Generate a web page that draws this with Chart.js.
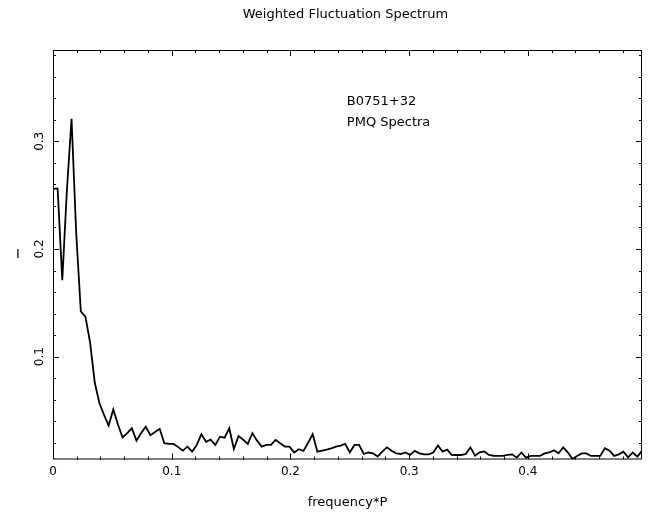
<!DOCTYPE html>
<html>
<head>
<meta charset="utf-8">
<script src="https://cdn.jsdelivr.net/npm/chart.js@4.4.0/dist/chart.umd.min.js"></script>
<style>
html, body { margin: 0; padding: 0; background: #fff; }
canvas { display: block; }
</style>
</head>
<body>
<canvas id="spectrum" width="659" height="515"></canvas>
<script>
// frequency bins are 1/256 wide (in units of 1/P)
var binWidth = 1 / 256;

// weighted fluctuation intensity per bin, starting at bin 0
var intensity = [
  0.256, 0.256, 0.171, 0.255, 0.321, 0.215, 0.142, 0.137, 0.113, 0.076,
  0.057, 0.046, 0.036, 0.051, 0.037, 0.025, 0.029, 0.0335, 0.022, 0.029,
  0.035, 0.027, 0.030, 0.033, 0.0196, 0.019, 0.019, 0.016, 0.0127, 0.0164,
  0.0118, 0.018, 0.028, 0.021, 0.023, 0.018, 0.0257, 0.0248, 0.0335, 0.0143,
  0.0263, 0.023, 0.019, 0.0289, 0.022, 0.0165, 0.018, 0.018, 0.0227, 0.0196,
  0.0165, 0.0165, 0.011, 0.014, 0.0125, 0.020, 0.028, 0.0118, 0.0127, 0.0137,
  0.0149, 0.0165, 0.0174, 0.019, 0.011, 0.018, 0.018, 0.0096, 0.011, 0.0102,
  0.0072, 0.0118, 0.0158, 0.0127, 0.0102, 0.0096, 0.011, 0.0087, 0.0125, 0.0102,
  0.0093, 0.0093, 0.011, 0.0174, 0.0118, 0.0137, 0.0087, 0.0087, 0.0087, 0.0096,
  0.0158, 0.008, 0.0112, 0.012, 0.0087, 0.008, 0.0078, 0.0078, 0.0087, 0.0093,
  0.0062, 0.011, 0.0062, 0.0078, 0.0078, 0.0078, 0.0102, 0.011, 0.013, 0.0102,
  0.0158, 0.0112, 0.005, 0.0078, 0.0102, 0.0102, 0.0078, 0.0078, 0.0078, 0.0149,
  0.0127, 0.0078, 0.0093, 0.0118, 0.0065, 0.011, 0.0072, 0.0125
];

var xTickLabels = ['0', '0.1', '0.2', '0.3', '0.4'];
var yTickLabels = ['0.1', '0.2', '0.3'];
var sourceName = 'B0751+32';
var spectrumKind = 'PMQ Spectra';

var points = intensity.map(function (v, k) { return { x: k * binWidth, y: v }; });
var fontFamily = '"DejaVu Sans", sans-serif';

function majorLabel(list) {
  return function (v) {
    var s = String(+v.toFixed(2));
    return list.indexOf(s) >= 0 ? s : '';
  };
}

// tick every `step` from the first multiple above min to max
function stepTicks(step) {
  return function (s) {
    var t = [];
    for (var i = Math.ceil(s.min / step - 1e-9); i * step <= s.max + 1e-9; i++) {
      t.push({ value: +(i * step).toFixed(4) });
    }
    s.ticks = t;
  };
}

// box, inward ticks on all four sides, text inside the plot
var framePlugin = {
  id: 'frame',
  afterDraw: function (chart) {
    var ctx = chart.ctx, a = chart.chartArea;
    var xs = chart.scales.x, ys = chart.scales.y;
    ctx.save();
    ctx.strokeStyle = '#000';
    ctx.lineWidth = 1;
    ctx.strokeRect(a.left + 0.5, a.top + 0.5, a.right - a.left - 1, a.bottom - a.top - 1);
    ctx.beginPath();
    xs.ticks.forEach(function (t) {
      if (t.value <= xs.min + 1e-9 || t.value >= xs.max - 1e-9) return;
      var px = Math.round(xs.getPixelForValue(t.value)) + 0.5;
      var len = t.label ? 6 : 3;
      ctx.moveTo(px, a.bottom); ctx.lineTo(px, a.bottom - len);
      ctx.moveTo(px, a.top); ctx.lineTo(px, a.top + len);
    });
    ys.ticks.forEach(function (t) {
      if (t.value <= ys.min + 1e-9 || t.value >= ys.max - 1e-9) return;
      var py = Math.round(ys.getPixelForValue(t.value)) + 0.5;
      var len = t.label ? 6 : 3;
      ctx.moveTo(a.left, py); ctx.lineTo(a.left + len, py);
      ctx.moveTo(a.right, py); ctx.lineTo(a.right - len, py);
    });
    ctx.stroke();

    ctx.fillStyle = '#000';
    ctx.font = '13px ' + fontFamily;
    ctx.textBaseline = 'middle';
    ctx.textAlign = 'left';
    var tx = xs.getPixelForValue(0.2475);
    ctx.fillText(sourceName, tx, ys.getPixelForValue(0.337));
    ctx.fillText(spectrumKind, tx, ys.getPixelForValue(0.317));

    ctx.textAlign = 'center';
    ctx.fillText('I', 18, (a.top + a.bottom) / 2);
    ctx.restore();
  }
};

var chart = new Chart(document.getElementById('spectrum').getContext('2d'), {
  type: 'line',
  data: {
    datasets: [{
      data: points,
      borderColor: '#000',
      borderWidth: 1.8,
      pointRadius: 0,
      tension: 0,
      fill: false
    }]
  },
  options: {
    responsive: false,
    animation: false,
    layout: { padding: { left: 49, right: 17, top: 0, bottom: 0 } },
    plugins: {
      legend: { display: false },
      tooltip: { enabled: false },
      title: {
        display: true,
        text: 'Weighted Fluctuation Spectrum',
        color: '#000',
        font: { family: fontFamily, size: 13, weight: 'normal' },
        padding: { top: 7.2, bottom: 27.2 }
      }
    },
    scales: {
      x: {
        type: 'linear',
        bounds: 'data',
        min: 0,
        max: (intensity.length - 1) * binWidth,
        grid: { display: false, drawTicks: false },
        border: { display: false },
        ticks: {
          autoSkip: false,
          maxRotation: 0,
          padding: 5.5,
          color: '#000',
          font: { family: fontFamily, size: 12 },
          callback: majorLabel(xTickLabels)
        },
        afterBuildTicks: stepTicks(0.02),
        title: {
          display: true,
          text: 'frequency*P',
          color: '#000',
          font: { family: fontFamily, size: 13 },
          padding: { top: 0, bottom: 4.2 }
        },
        afterFit: function (s) { s.height = 55.5; }
      },
      y: {
        type: 'linear',
        bounds: 'data',
        min: 0.0045,
        max: 0.3848,
        grid: { display: false, drawTicks: false },
        border: { display: false },
        ticks: {
          autoSkip: false,
          minRotation: 90,
          maxRotation: 90,
          mirror: true,
          crossAlign: 'center',
          padding: -22.5,
          color: '#000',
          font: { family: fontFamily, size: 12 },
          callback: majorLabel(yTickLabels)
        },
        afterBuildTicks: stepTicks(0.02),
        afterFit: function (s) { s.width = 4; }
      }
    }
  },
  plugins: [framePlugin]
});
</script>
</body>
</html>
